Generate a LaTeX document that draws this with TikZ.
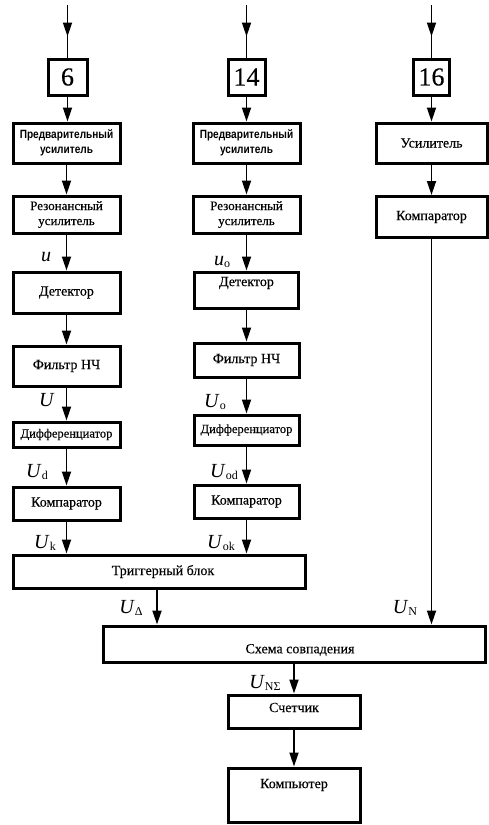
\documentclass[tikz,border=0pt]{standalone}
\usepackage{fontspec}
\setmainfont{Liberation Serif}
\newfontfamily\heavyserif[FakeBold=0.3]{Liberation Serif}
\newfontfamily\narrowsans[FakeStretch=0.84]{Liberation Sans}
\usetikzlibrary{arrows.meta,decorations.markings,calc}
\newcommand\sigl[2]{\textit{#1}\raisebox{-0.3ex}{\fontsize{12}{12}\selectfont #2}}
\begin{document}
\begin{tikzpicture}[x=1pt,y=-1pt,
  every label/.style={font=\heavyserif\fontsize{14}{16}\selectfont,inner sep=0pt},
  box/.style={draw,line width=3pt,rectangle,inner sep=0pt,align=center,
    font=\heavyserif\fontsize{14}{16}\selectfont},
  numbox/.style={box,font=\heavyserif\fontsize{26}{26}\selectfont},
  prebox/.style={box,font=\narrowsans\bfseries\fontsize{12}{15}\selectfont},
  resbox/.style={box,font=\heavyserif\fontsize{13}{15}\selectfont},
  conn/.style={line width=1.8pt,-{Triangle[length=14pt,width=9pt]}},
  midarrow/.style={line width=1.8pt,postaction={decorate},
    decoration={markings,mark=at position 0.6 with {\arrow{Triangle[length=14pt,width=9pt]}}}},
  sig/.style={anchor=base,inner sep=0pt,font=\fontsize{20}{20}\selectfont}]
\useasboundingbox (0,0) rectangle (489,825);
% left column
\node[numbox,minimum width=39pt,minimum height=36pt] (b6) at (67.5,77) {6};
\node[prebox,minimum width=107pt,minimum height=40pt] (pre1) at (66.5,143) {Предварительный\\усилитель};
\node[resbox,minimum width=107pt,minimum height=37pt] (res1) at (66.5,214.5) {Резонансный\\усилитель};
\node[box,minimum width=107pt,minimum height=41pt] (det1) at (66.5,292.5) {Детектор};
\node[box,minimum width=107pt,minimum height=40pt] (flt1) at (66.5,366) {Фильтр НЧ};
\node[box,font=\heavyserif\fontsize{12.5}{14}\selectfont,minimum width=107pt,minimum height=25pt] (dif1) at (66.5,434.5) {Дифференциатор};
\node[box,minimum width=107pt,minimum height=33pt] (cmp1) at (66.5,503.5) {Компаратор};
% middle column
\node[numbox,minimum width=37pt,minimum height=36pt] (b14) at (246.5,77) {14};
\node[prebox,minimum width=107pt,minimum height=40pt] (pre2) at (246.5,143) {Предварительный\\усилитель};
\node[resbox,minimum width=107pt,minimum height=37pt] (res2) at (246.5,214.5) {Резонансный\\усилитель};
\node[box,minimum width=104pt,minimum height=36pt,label={[yshift=7pt]center:Детектор}] (det2) at (246.5,290) {};
\node[box,minimum width=105pt,minimum height=34pt] (flt2) at (246.5,360) {Фильтр НЧ};
\node[box,font=\heavyserif\fontsize{12.5}{14}\selectfont,minimum width=105pt,minimum height=30pt] (dif2) at (246.5,430) {Дифференциатор};
\node[box,minimum width=105pt,minimum height=33pt] (cmp2) at (246.5,501.5) {Компаратор};
% right column
\node[numbox,minimum width=36pt,minimum height=36pt] (b16) at (431.5,77) {16};
\node[box,minimum width=111pt,minimum height=40pt] (amp3) at (431.5,143) {Усилитель};
\node[box,minimum width=111pt,minimum height=41pt] (cmp3) at (431.5,217) {Компаратор};
% bottom blocks
\node[box,minimum width=292pt,minimum height=33pt,label={[xshift=4pt]center:Триггерный блок}] (trig) at (159,571.5) {};
\node[box,minimum width=382pt,minimum height=36pt,label={[xshift=6pt,yshift=-6pt]center:Схема совпадения}] (coin) at (294,644) {};
\node[box,minimum width=132pt,minimum height=33pt,label={[yshift=4pt]center:Счетчик}] (cnt) at (294,711.5) {};
\node[box,minimum width=132pt,minimum height=54pt,label={[yshift=10pt]center:Компьютер}] (comp) at (294,795) {};
% inputs
\coordinate (in6) at (67.5,5);
\coordinate (in14) at (246.5,5);
\coordinate (in16) at (431.5,5);
\draw[midarrow] (in6) -- (b6.north);
\draw[midarrow] (in14) -- (b14.north);
\draw[midarrow] (in16) -- (b16.north);
% column connectors
\foreach \a/\b in {b6/pre1,pre1/res1,res1/det1,det1/flt1,flt1/dif1,dif1/cmp1,
                   b14/pre2,pre2/res2,res2/det2,det2/flt2,flt2/dif2,dif2/cmp2,
                   b16/amp3,amp3/cmp3}
  \draw[conn] (\a.south) -- (\a.south |- \b.north);
\draw[conn] (cmp1.south) -- (cmp1.south |- trig.north);
\draw[conn] (cmp2.south) -- (cmp2.south |- trig.north);
\draw[conn] (cmp3.south) -- (cmp3.south |- coin.north);
\draw[conn] ($(trig.south)+(-2,0)$) coordinate (tA) -- (tA |- coin.north);
\draw[conn] (coin.south -| cnt.north) -- (cnt.north);
\draw[conn] (cnt.south) -- (comp.north);
% signal labels
\node[sig] (lu) at (46,261) {\textit{u}};
\node[sig] (luo) at (222,265) {\sigl{u}{o}};
\node[sig] (lU) at (47,406) {\textit{U}};
\node[sig] (lUo) at (215,407) {\sigl{U}{o}};
\node[sig] (lUd) at (37,477) {\sigl{U}{d}};
\node[sig] (lUod) at (224,477) {\sigl{U}{od}};
\node[sig] (lUk) at (45,548) {\sigl{U}{k}};
\node[sig] (lUok) at (221,548) {\sigl{U}{ok}};
\node[sig] (lUD) at (131,613) {\sigl{U}{Δ}};
\node[sig] (lUN) at (405,613) {\sigl{U}{N}};
\node[sig] (lUNS) at (265,688) {\sigl{U}{NΣ}};
\end{tikzpicture}
\end{document}
